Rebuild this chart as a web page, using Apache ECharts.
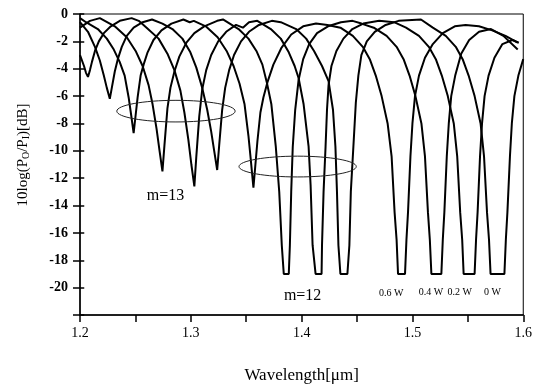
<!DOCTYPE html>
<html>
<head>
<meta charset="utf-8">
<script src="https://cdn.jsdelivr.net/npm/echarts@6/dist/echarts.min.js"></script>
<style>
    body { margin: 0; background: #fff; }
    #chart { width: 535px; height: 389px; }
</style>
</head>
<body>
<div id="chart"></div>
<script>
// wavelength [um], 10log(Po/Pi) [dB] for each pump power
var curve06 = [
    [1.2000, -0.3], [1.2054, -0.6], [1.2161, -1.1], [1.2242, -1.8], [1.2305, -2.6], [1.2358, -3.5], [1.2403, -4.5],
    [1.2439, -6.1], [1.2462, -7.4], [1.2484, -8.7], [1.2502, -7.4], [1.2520, -6.1], [1.2547, -4.5], [1.2574, -3.7],
    [1.2610, -2.8], [1.2663, -1.9], [1.2735, -1.2], [1.2825, -0.7], [1.2933, -0.4], [1.2990, -0.6], [1.3027, -0.5],
    [1.3135, -0.9], [1.3242, -1.7], [1.3323, -2.7], [1.3386, -3.8], [1.3440, -5.1], [1.3485, -6.6], [1.3520, -8.9],
    [1.3543, -10.8], [1.3565, -12.7], [1.3583, -11.0], [1.3601, -9.3], [1.3628, -7.2], [1.3655, -6.1], [1.3691, -5.0],
    [1.3745, -3.7], [1.3816, -2.5], [1.3906, -1.5], [1.4014, -0.9], [1.4130, -0.7], [1.4234, -0.8], [1.4350, -1.0],
    [1.4462, -1.6], [1.4552, -2.4], [1.4615, -3.3], [1.4669, -4.5], [1.4722, -6.0], [1.4776, -8.0], [1.4812, -10.4],
    [1.4839, -14.5], [1.4857, -16.5], [1.4870, -19], [1.4933, -19], [1.4946, -16.5], [1.4960, -14.5], [1.4982, -10.4],
    [1.5000, -8.0], [1.5023, -6.0], [1.5059, -4.5], [1.5113, -3.2], [1.5184, -2.2], [1.5274, -1.4], [1.5382, -0.9],
    [1.5480, -0.8], [1.5600, -0.9], [1.5720, -1.2], [1.5840, -1.6], [1.5950, -2.1]
];
var curve04 = [
    [1.2000, -1.0], [1.2090, -0.5], [1.2179, -0.3], [1.2314, -0.9], [1.2422, -1.7], [1.2502, -2.7], [1.2565, -3.8],
    [1.2619, -5.2], [1.2655, -6.6], [1.2691, -8.4], [1.2718, -10.0], [1.2744, -11.5], [1.2762, -9.6], [1.2789, -6.9],
    [1.2816, -5.4], [1.2852, -4.2], [1.2897, -3.1], [1.2960, -2.1], [1.3032, -1.4], [1.3121, -0.9], [1.3238, -0.5],
    [1.3290, -0.4], [1.3431, -1.1], [1.3520, -1.8], [1.3592, -2.7], [1.3646, -3.7], [1.3686, -5.0], [1.3727, -6.6],
    [1.3767, -9.7], [1.3798, -13], [1.3821, -16.9], [1.3839, -19], [1.3884, -19], [1.3894, -16.9], [1.3906, -13],
    [1.3920, -9.7], [1.3942, -7.0], [1.3973, -4.8], [1.4014, -3.3], [1.4068, -2.2], [1.4139, -1.4], [1.4238, -0.9],
    [1.4355, -0.6], [1.4460, -0.5], [1.4540, -0.7], [1.4651, -1.0], [1.4767, -1.6], [1.4857, -2.4], [1.4920, -3.3],
    [1.4974, -4.5], [1.5027, -6.0], [1.5081, -8.0], [1.5113, -10.4], [1.5140, -14.5], [1.5157, -16.5], [1.5171, -19],
    [1.5261, -19], [1.5274, -16.5], [1.5288, -14.5], [1.5310, -10.4], [1.5328, -8.0], [1.5350, -6.0], [1.5386, -4.5],
    [1.5440, -2.9], [1.5512, -1.9], [1.5601, -1.3], [1.5709, -1.1], [1.5821, -1.6], [1.5950, -2.6]
];
var curve02 = [
    [1.2000, -3.0], [1.2036, -3.8], [1.2054, -4.3], [1.2072, -4.6], [1.2090, -4.1], [1.2108, -3.5], [1.2135, -2.7],
    [1.2170, -2.0], [1.2215, -1.4], [1.2278, -0.9], [1.2359, -0.5], [1.2466, -0.3], [1.2530, -0.5], [1.2601, -1.0],
    [1.2709, -1.8], [1.2789, -2.9], [1.2852, -4.1], [1.2906, -5.6], [1.2942, -7.2], [1.2978, -9.2], [1.3005, -11.0],
    [1.3032, -12.6], [1.3049, -10.5], [1.3076, -7.5], [1.3103, -5.5], [1.3139, -4.1], [1.3184, -3.0], [1.3247, -2.0],
    [1.3319, -1.3], [1.3408, -0.8], [1.3470, -1.0], [1.3525, -0.6], [1.3600, -0.5], [1.3722, -1.1], [1.3812, -1.8],
    [1.3884, -2.8], [1.3937, -3.8], [1.3973, -4.7], [1.4018, -6.6], [1.4063, -9.7], [1.4081, -12.5], [1.4099, -16.9],
    [1.4126, -19], [1.4180, -19], [1.4184, -16.9], [1.4198, -13], [1.4216, -9.7], [1.4229, -7.0], [1.4243, -5.2],
    [1.4269, -3.8], [1.4314, -2.7], [1.4377, -1.8], [1.4458, -1.1], [1.4556, -0.7], [1.4700, -0.5], [1.4834, -0.6],
    [1.4942, -1.0], [1.5059, -1.6], [1.5148, -2.4], [1.5211, -3.3], [1.5265, -4.5], [1.5319, -6.0], [1.5373, -8.0],
    [1.5404, -10.4], [1.5431, -14.5], [1.5449, -16.5], [1.5462, -19], [1.5561, -19], [1.5574, -16.5], [1.5588, -14.5],
    [1.5610, -10.4], [1.5628, -8.0], [1.5651, -6.0], [1.5687, -4.5], [1.5740, -3.2], [1.5812, -2.2], [1.5902, -1.9],
    [1.5960, -2.1]
];
var curve00 = [
    [1.2000, -0.6], [1.2072, -1.3], [1.2135, -2.4], [1.2179, -3.4], [1.2215, -4.5], [1.2242, -5.4], [1.2269, -6.2],
    [1.2287, -5.4], [1.2314, -4.2], [1.2341, -3.3], [1.2377, -2.4], [1.2422, -1.6], [1.2484, -1.0], [1.2565, -0.6],
    [1.2650, -0.4], [1.2744, -0.7], [1.2834, -1.1], [1.2924, -1.8], [1.2996, -2.8], [1.3049, -3.9], [1.3103, -5.4],
    [1.3148, -7.0], [1.3184, -8.6], [1.3211, -10.0], [1.3238, -11.4], [1.3256, -9.6], [1.3283, -7.0], [1.3310, -5.4],
    [1.3346, -4.1], [1.3390, -3.0], [1.3453, -2.0], [1.3525, -1.3], [1.3615, -0.8], [1.3731, -0.5], [1.3812, -0.6],
    [1.3951, -1.1], [1.4041, -1.8], [1.4112, -2.7], [1.4184, -3.8], [1.4243, -4.9], [1.4283, -7.0], [1.4305, -9.7],
    [1.4319, -13], [1.4332, -16.9], [1.4350, -19], [1.4413, -19], [1.4431, -16.9], [1.4444, -13], [1.4467, -9.7],
    [1.4489, -6.5], [1.4512, -4.5], [1.4539, -3.0], [1.4588, -2.0], [1.4660, -1.3], [1.4758, -0.8], [1.4875, -0.5],
    [1.5077, -0.4], [1.5184, -1.0], [1.5301, -1.6], [1.5391, -2.4], [1.5453, -3.3], [1.5507, -4.5], [1.5561, -6.0],
    [1.5615, -8.0], [1.5646, -10.4], [1.5673, -14.5], [1.5691, -16.5], [1.5705, -19], [1.5830, -19], [1.5843, -16.5],
    [1.5857, -14.5], [1.5880, -10.4], [1.5897, -8.0], [1.5920, -6.0], [1.5956, -4.5], [1.6000, -3.3]
];

var powerNames = ['0.6 W', '0.4 W', '0.2 W', '0 W'];
var xTicks = [1.2, 1.3, 1.4, 1.5, 1.6];
var yTicks = [0, -2, -4, -6, -8, -10, -12, -14, -16, -18, -20];

// annotations, in data coordinates
var powerLabelPos = [[1.4808, -20.45], [1.5167, -20.35], [1.5427, -20.35], [1.5723, -20.35]];
var orderLabels = [{text: 'm=13', pos: [1.2771, -13.3]}, {text: 'm=12', pos: [1.4009, -20.6]}];
var ellipses = [
    {center: [1.2866, -7.1], half: [0.0534, 0.79]},
    {center: [1.3964, -11.15], half: [0.0529, 0.76]}
];

var serif = '"Liberation Serif", "DejaVu Serif", serif';
var chart = echarts.init(document.getElementById('chart'));

function lineSeries(name, data) {
    return {
        name: name,
        type: 'line',
        data: data,
        showSymbol: false,
        animation: false,
        lineStyle: {color: '#000', width: 2},
        xAxisIndex: 0,
        yAxisIndex: 0
    };
}

var axisStroke = {color: '#000', width: 1.5};
var gridH = 389 - 14 - 67;
var gridW = 535 - 80 - 9;

var option = {
    animation: false,
    backgroundColor: '#fff',
    grid: {
        left: 80, right: 9, top: 14, bottom: 67,
        show: true, borderColor: '#000', borderWidth: 1,
        backgroundColor: 'transparent'
    },
    xAxis: [{
        type: 'value', min: 1.2, max: 1.6, interval: 0.1, position: 'bottom',
        axisLine: {onZero: false, lineStyle: axisStroke},
        axisTick: {length: 7, lineStyle: axisStroke},
        minorTick: {show: true, splitNumber: 2, length: 7, lineStyle: axisStroke},
        splitLine: {show: false},
        axisLabel: {
            margin: 11, color: '#000', fontSize: 14, fontFamily: serif,
            formatter: function (v) {
                return xTicks.indexOf(+v.toFixed(1)) >= 0 ? v.toFixed(1) : '';
            }
        },
        name: 'Wavelength[\u03bcm]',
        nameLocation: 'middle',
        nameGap: 52,
        nameTextStyle: {color: '#000', fontSize: 17, fontFamily: serif}
    }, {
        // top axis pulled down onto the bottom line: its ticks point up, so they cross the axis
        type: 'value', min: 1.2, max: 1.6, interval: 0.1, position: 'top', offset: -gridH,
        axisLine: {show: false, onZero: false},
        axisTick: {length: 7, lineStyle: axisStroke},
        minorTick: {show: true, splitNumber: 2, length: 7, lineStyle: axisStroke},
        splitLine: {show: false},
        axisLabel: {show: false}
    }],
    yAxis: [{
        type: 'value', min: -22, max: 0, interval: 2, position: 'left',
        axisLine: {onZero: false, lineStyle: axisStroke},
        axisTick: {length: 7, lineStyle: axisStroke},
        splitLine: {show: false},
        axisLabel: {
            margin: 12, color: '#000', fontSize: 14, fontWeight: 'bold', fontFamily: serif,
            formatter: function (v) {
                return yTicks.indexOf(v) >= 0 ? String(v) : '';
            }
        }
    }, {
        type: 'value', min: -22, max: 0, interval: 2, position: 'right', offset: -gridW,
        axisLine: {show: false, onZero: false},
        axisTick: {length: 7, lineStyle: axisStroke},
        splitLine: {show: false},
        axisLabel: {show: false}
    }],
    series: [
        lineSeries(powerNames[0], curve06),
        lineSeries(powerNames[1], curve04),
        lineSeries(powerNames[2], curve02),
        lineSeries(powerNames[3], curve00)
    ]
};

chart.setOption(option);

function toPx(p) {
    return chart.convertToPixel({gridIndex: 0}, p);
}

function buildGraphics() {
    var g = [];
    for (var i = 0; i < ellipses.length; i++) {
        var c = toPx(ellipses[i].center);
        var e = toPx([ellipses[i].center[0] + ellipses[i].half[0], ellipses[i].center[1] - ellipses[i].half[1]]);
        g.push({
            type: 'ellipse',
            shape: {cx: c[0], cy: c[1], rx: e[0] - c[0], ry: e[1] - c[1]},
            style: {fill: 'none', stroke: '#222', lineWidth: 1},
            z: 10
        });
    }
    for (var j = 0; j < orderLabels.length; j++) {
        var p = toPx(orderLabels[j].pos);
        g.push({
            type: 'text', x: p[0], y: p[1], z: 10,
            style: {text: orderLabels[j].text, fill: '#000', font: '16px ' + serif, align: 'center', verticalAlign: 'middle'}
        });
    }
    for (var k = 0; k < powerNames.length; k++) {
        var q = toPx(powerLabelPos[k]);
        g.push({
            type: 'text', x: q[0], y: q[1], z: 10,
            style: {text: powerNames[k], fill: '#000', font: '10px ' + serif, align: 'center', verticalAlign: 'middle'}
        });
    }
    // y axis title with subscripts
    g.push({
        type: 'text', x: 23, y: 155, rotation: Math.PI / 2, z: 10,
        style: {
            text: '10log(P{s|O}/P{s|I})[dB]',
            fill: '#000', fontSize: 15, fontFamily: serif,
            align: 'center', verticalAlign: 'middle',
            rich: {
                s: {fontSize: 10, fontFamily: serif, fill: '#000', padding: [7, 0, 0, 0]}
            }
        }
    });
    return g;
}

chart.setOption({graphic: buildGraphics()});
</script>
</body>
</html>
